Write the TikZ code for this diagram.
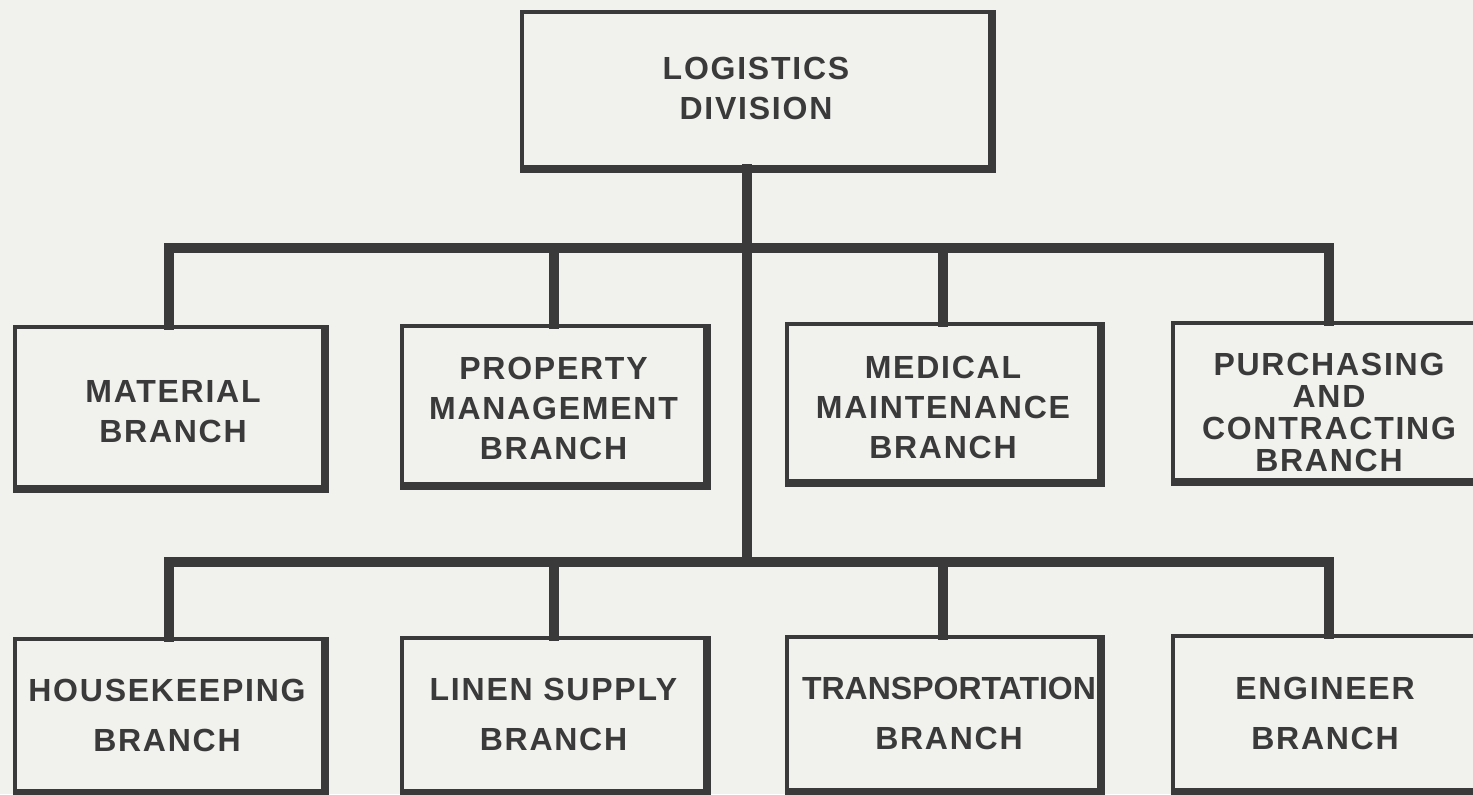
\documentclass[tikz,border=0pt]{standalone}
\usepackage{fontspec}
\newfontfamily\chartfont{Liberation Sans}[LetterSpace=5.5]
\definecolor{ink}{RGB}{58,58,58}
\definecolor{paper}{RGB}{241,241,238}
\begin{document}
\begin{tikzpicture}[x=0.5pt,y=-0.5pt,
  frame/.style n args={2}{draw=ink, line width=2pt, inner sep=0pt,
    minimum width=0.5pt*#1, minimum height=0.5pt*#2},
  caption/.style={inner sep=0pt, align=center, text=ink,
    font=\chartfont\bfseries\fontsize{16}{20}\selectfont},
  wire/.style={draw=ink, line width=5pt, line join=miter, line cap=rect},
  heavyedge/.style={draw=ink, line width=4pt, line join=miter}]

% sheet
\fill[paper] (0,0) rectangle (1473,794);
\useasboundingbox (0,0) rectangle (1473,794);

% division head
\node[frame={468}{155}] (top) at (756,89.5) {};
\node[caption] (toptxt) at ([yshift=0.5pt]top.center) {LOGISTICS\\DIVISION};

% first row of branches
\node[frame={308}{160}] (mat)  at (169,407)    {};
\node[frame={303}{158}] (prop) at (553.5,405)  {};
\node[frame={312}{157}] (med)  at (943,402.5)  {};
\node[frame={312}{157}] (pur)  at (1329,401.5) {};

\node[caption] (mattxt)  at ([xshift=2pt,yshift=-2.5pt]mat.center) {MATERIAL\\BRANCH};
\node[caption] (proptxt) at ([yshift=-1.5pt]prop.center) {PROPERTY\\MANAGEMENT\\BRANCH};
\node[caption] (medtxt)  at ([yshift=-2.5pt]med.center)  {MEDICAL\\MAINTENANCE\\BRANCH};
\node[caption] (purtxt)  at ([yshift=-5.5pt]pur.center)
  {PURCHASING\\[-4pt]AND\\[-4pt]CONTRACTING\\[-4pt]BRANCH};

% second row of branches
\node[frame={308}{152}] (hk)  at (169,715)     {};
\node[frame={303}{153}] (lin) at (553.5,714.5) {};
\node[frame={312}{153}] (tra) at (943,713.5)   {};
\node[frame={312}{154}] (eng) at (1329,713)    {};

\node[caption] (hktxt)  at ([xshift=-1pt]hk.center)  {HOUSEKEEPING\\[5pt]BRANCH};
\node[caption] (lintxt) at (lin.center)              {LINEN SUPPLY\\[5pt]BRANCH};
\node[caption] (tratxt) at ([xshift=3pt]tra.center)
  {\addfontfeature{LetterSpace=0}TRANSPORTATION\\[5pt]\addfontfeature{LetterSpace=5.5}BRANCH};
\node[caption] (engtxt) at ([xshift=-2pt]eng.center) {ENGINEER\\[5pt]BRANCH};

% heavier right and bottom edges
\foreach \n in {top,mat,prop,med,pur,hk,lin,tra,eng}
  \draw[heavyedge] (\n.north east) -- (\n.south east) -- (\n.south west);

% bus lines
\coordinate (bus1) at (747,248);
\coordinate (bus2) at (747,562);

\draw[wire] (top.south -| bus1) -- (bus2);

\draw[wire] (mat.north) -- (mat.north |- bus1) -- (pur.north |- bus1) -- (pur.north);
\draw[wire] (prop.north) -- (prop.north |- bus1);
\draw[wire] (med.north) -- (med.north |- bus1);

\draw[wire] (hk.north) -- (hk.north |- bus2) -- (eng.north |- bus2) -- (eng.north);
\draw[wire] (lin.north) -- (lin.north |- bus2);
\draw[wire] (tra.north) -- (tra.north |- bus2);
\end{tikzpicture}
\end{document}
